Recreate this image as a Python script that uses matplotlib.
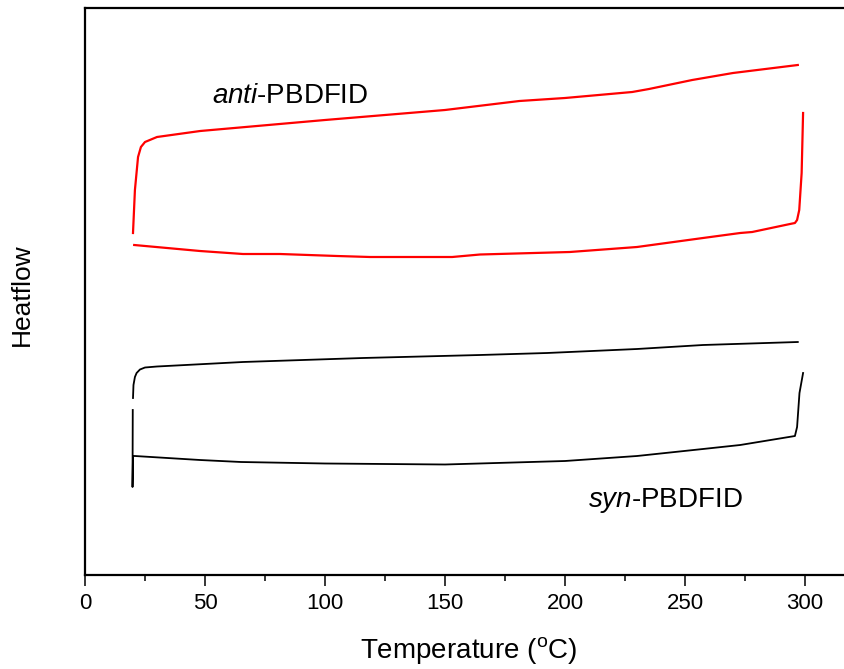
import matplotlib
matplotlib.use('Agg')
from matplotlib import pyplot as plt
from matplotlib.ticker import MultipleLocator

plt.rcParams['font.family'] = ['Liberation Sans', 'DejaVu Sans']
plt.rcParams['mathtext.fontset'] = 'custom'
plt.rcParams['mathtext.rm'] = 'Liberation Sans'
plt.rcParams['mathtext.it'] = 'Liberation Sans:italic'

'''DSC traces, heatflow in arbitrary units (heating and cooling runs)'''
# anti-PBDFID heating
anti_heat_T = [20.0, 20.8, 22.1, 23.3, 25, 30, 48, 100, 150, 181, 200, 228, 235, 253, 270, 297]
anti_heat_H = [3.42, 3.85, 4.18, 4.28, 4.33, 4.38, 4.44, 4.55, 4.65, 4.74, 4.77, 4.83, 4.86, 4.95, 5.02, 5.10]
# anti-PBDFID cooling
anti_cool_T = [299.2, 298.6, 297.6, 296.7, 295.8, 293.75, 278, 273, 257.5, 230, 202, 164.6, 153, 118.75, 105, 81.25, 65.8, 47.9, 20.5]
anti_cool_H = [4.62, 4.02, 3.65, 3.55, 3.52, 3.51, 3.43, 3.42, 3.37, 3.28, 3.23, 3.205, 3.18, 3.18, 3.19, 3.21, 3.21, 3.24, 3.30]
# syn-PBDFID heating
syn_heat_T = [20.0, 20.2, 20.8, 21.5, 22.9, 25, 30, 65.8, 115.8, 164.6, 192.5, 230, 257.5, 297]
syn_heat_H = [1.77, 1.90, 1.98, 2.02, 2.055, 2.075, 2.085, 2.13, 2.17, 2.20, 2.22, 2.26, 2.30, 2.33]
# syn-PBDFID cooling
syn_cool_T = [299.2, 297.7, 296.7, 295.8, 273, 257.5, 230, 200, 150, 100, 65, 47.9, 20.8, 20.0, 19.8, 19.9]
syn_cool_H = [2.02, 1.82, 1.48, 1.39, 1.30, 1.26, 1.19, 1.14, 1.105, 1.115, 1.13, 1.15, 1.19, 1.19, 0.88, 1.65]

fig = plt.figure(figsize=(8.45, 6.69), dpi=100)
ax = fig.add_axes([85 / 845, 94 / 669, 768 / 845, 567 / 669])

ax.plot(anti_heat_T, anti_heat_H, color='red', lw=1.6)
ax.plot(anti_cool_T, anti_cool_H, color='red', lw=1.6)
ax.plot(syn_heat_T, syn_heat_H, color='black', lw=1.3)
ax.plot(syn_cool_T, syn_cool_H, color='black', lw=1.3)

ax.text(52.8, 4.72, r'$\it{anti}$' + '-PBDFID', fontsize=20, ha='left', va='baseline')
ax.text(209.6, 0.68, r'$\it{syn}$' + '-PBDFID', fontsize=20, ha='left', va='baseline')

ax.set_xlim(0, 320)
ax.set_ylim(0, 5.67)
ax.set_yticks([])
ax.xaxis.set_major_locator(MultipleLocator(50))
ax.xaxis.set_minor_locator(MultipleLocator(25))
ax.tick_params(axis='x', which='major', direction='out', length=8, width=1.1, pad=5, labelsize=16)
ax.tick_params(axis='x', which='minor', direction='out', length=4, width=1.1)
for s in ax.spines.values():
    s.set_linewidth(1.6)

ax.set_xlabel(r'Temperature ($^\mathrm{o}$C)', fontsize=20, labelpad=15)
ax.set_ylabel('Heatflow', fontsize=19)
ax.yaxis.set_label_coords(-0.066, 0.494)

plt.savefig('out.png', dpi=100)
